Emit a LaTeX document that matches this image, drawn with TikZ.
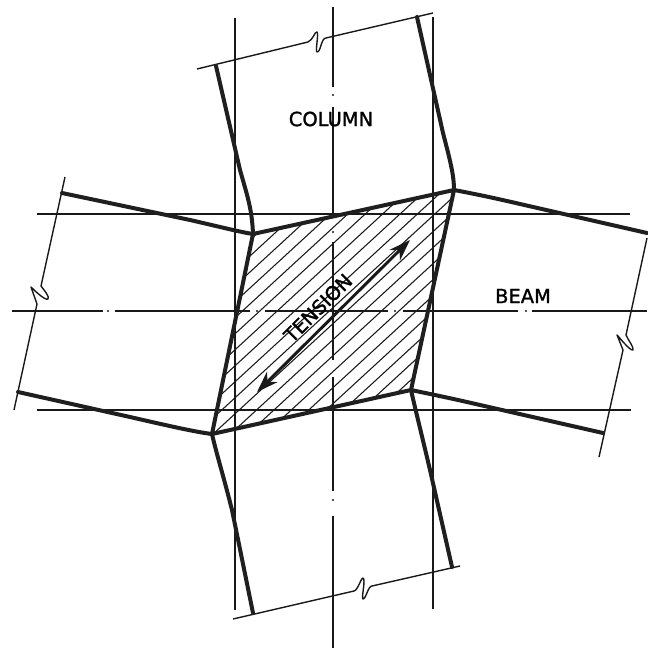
\documentclass[tikz,border=0pt]{standalone}
\usepackage{fontspec}
\setmainfont[FakeBold=1.3]{DejaVu Sans}
\usetikzlibrary{arrows.meta}
\tikzset{
  thick outline/.style={line width=3pt,line cap=round,line join=round,black!88},
  axis/.style={line width=1.15pt,black!90},
  dim/.style={line width=1.05pt,line join=round,black!90},
  hatchline/.style={line width=0.8pt,black!90},
  label/.style={inner sep=0pt,font=\fontsize{14.6}{14.6}\selectfont},
  tip/.style={line width=2.2pt,{Stealth[length=16pt,width=11pt,inset=5pt]}-{Stealth[length=16pt,width=11pt,inset=5pt]},black!90},
}
\begin{document}
\begin{tikzpicture}[x=0.75pt,y=-0.75pt]
\useasboundingbox (0,0) rectangle (647,648);
\coordinate (TL) at (253,234);
\coordinate (TR) at (454,190);
\coordinate (BR) at (411,390);
\coordinate (BL) at (212,434);
% hatching
\begin{scope}
\clip (TL) -- (TR) -- (BR) -- (BL) -- cycle;
\foreach \c in {470,486,...,860}
  \draw[hatchline] (150,\c-150*0.92) -- (500,\c-500*0.92);
\end{scope}
% extent lines
\draw[axis] (235,18) -- (235,610);
\draw[axis] (433,17) -- (433,609);
\draw[axis] (37,214) -- (630,214);
\draw[axis] (37,410) -- (631,410);
% centre lines
\draw[axis] (333,7) -- (333,87) (333,107) -- (333,218) (333,242) -- (333,360) (333,377) -- (333,491) (333,516) -- (333,648);
\draw[axis] (12,311) -- (103,311) (115,311) -- (250,311) (265,311) -- (388,311) (403,311) -- (518,311) (532,311) -- (647,311);
\foreach \p in {(333,95),(333,232),(333,500),(108,311),(257,311),(395,311),(526,311)}
  \fill[black!90] \p circle (1.1);
% dimension lines with breaks
\draw[dim] (197,69) -- (308,42) .. controls (313,40) and (315,31) .. (317,32) .. controls (319,33) and (315,52) .. (317,52) .. controls (321,52) and (321,38) .. (326,38) -- (433,13);
\draw[dim] (233,619) -- (354,591) .. controls (358,590) and (361,578) .. (363,578) .. controls (366,579) and (361,599) .. (363,599) .. controls (366,599) and (368,586) .. (372,586) -- (460,566);
\draw[dim] (65,177) -- (41,286) .. controls (44,290) and (50,297) .. (48,299) .. controls (45,301) and (33,289) .. (31,287) -- (37,304) -- (14,410);
\draw[dim] (647,238) -- (626,335) .. controls (628,340) and (634,347) .. (633,350) .. controls (630,351) and (619,337) .. (617,335) -- (623,350) -- (599,457);
% distorted outline
\draw[thick outline] (TL) -- (TR) -- (BR) -- (BL) -- cycle;
\draw[thick outline] (216,66) -- (240,170) .. controls (248,198) and (252,210) .. (TL);
\draw[thick outline] (417,17) -- (443,133) .. controls (450,160) and (454,175) .. (TR);
\draw[thick outline] (BL) .. controls (216,452) and (224,478) .. (232,510) -- (253,613);
\draw[thick outline] (BR) .. controls (415,408) and (422,436) .. (430,470) -- (452,567);
\draw[thick outline] (62,193) -- (190,220) .. controls (225,228) and (240,232) .. (TL);
\draw[thick outline] (TR) .. controls (470,193) and (490,197) .. (520,204) -- (647,233);
\draw[thick outline] (18,392) -- (130,417) .. controls (165,425) and (195,432) .. (BL);
\draw[thick outline] (BR) .. controls (430,394) and (450,398) .. (480,405) -- (603,433);
% arrow
\coordinate (tipA) at (257,392);
\coordinate (tipB) at (410,240);
\draw[tip] (tipA) -- (tipB);
% labels
\node[label] (column) at (331,119) {COLUMN};
\node[label] (beam) at (523,296) {BEAM};
\node[label,rotate=45] (tension) at (318,308) {TENSION};
\end{tikzpicture}
\end{document}
